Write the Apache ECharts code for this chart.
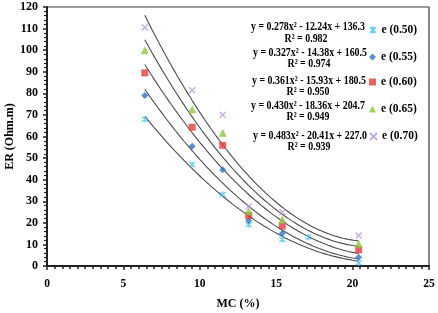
<!DOCTYPE html>
<html>
<head>
<meta charset="utf-8">
<script src="https://cdn.jsdelivr.net/npm/echarts@6/dist/echarts.min.js"></script>
<style>
html,body{margin:0;padding:0;background:#fff;}
#chart{width:438px;height:313px;}
</style>
</head>
<body>
<div id="chart"></div>
<script>
// ---- data ----
const seriesNames = ['e (0.50)', 'e (0.55)', 'e (0.60)', 'e (0.65)', 'e (0.70)'];
const xE050 = [6.4, 9.5, 11.5, 13.2, 15.4, 17.1, 20.4];
const yE050 = [68, 47, 33.1, 19.1, 12.3, 13.4, 1.5];
const xCommon = [6.4, 9.5, 11.5, 13.2, 15.4, 20.4];
const yE055 = [79, 55.5, 44.6, 21.1, 15.2, 4.1];
const yE060 = [89.5, 64.3, 55.9, 23.4, 18.5, 7.5];
const yE065 = [100, 72.6, 61.7, 25.4, 21.6, 10.3];
const yE070 = [110.5, 81.4, 70.1, 27.7, 24.9, 14.1];
// trendline coefficients printed on the chart: y = a x^2 + b x + c
const coefA = [0.278, 0.327, 0.361, 0.430, 0.483];
const coefB = [-12.24, -14.38, -15.93, -18.36, -20.41];
const coefC = [136.3, 160.5, 180.5, 204.7, 227.0];
const rSquared = [0.982, 0.974, 0.950, 0.949, 0.939];
const fitRange = [6.4, 20.4];
const xTicks = [0, 5, 10, 15, 20, 25];
const yTicks = [0, 10, 20, 30, 40, 50, 60, 70, 80, 90, 100, 110, 120];

const colors = ['#4cc3e6', '#2f73c2', '#e23c3c', '#8cc63f', '#b796d8'];
const starPath = 'path://M-1,-1L1,1M1,-1L-1,1M0,-1.2L0,1.2';
const crossPath = 'path://M-1,-1L1,1M1,-1L-1,1';
const symbols = [starPath, 'diamond', 'rect', 'triangle', crossPath];
const symSizes = [6, 7, 7, 8, 6];

const pts = [
  xE050.map((x, i) => [x, yE050[i]]),
  xCommon.map((x, i) => [x, yE055[i]]),
  xCommon.map((x, i) => [x, yE060[i]]),
  xCommon.map((x, i) => [x, yE065[i]]),
  xCommon.map((x, i) => [x, yE070[i]])
];

const serif = '"Liberation Serif", "Times New Roman", serif';

const series = [];
// trendlines
coefA.forEach((a, k) => {
  const d = [];
  for (let s = 0; s <= 140; s++) {
    const x = fitRange[0] + s * (fitRange[1] - fitRange[0]) / 140;
    d.push([x, a * x * x + coefB[k] * x + coefC[k]]);
  }
  series.push({
    type: 'line', data: d, showSymbol: false, silent: true, smooth: false,
    lineStyle: { color: '#4a4a4a', width: 1.1 }, z: 2
  });
});
// scatter points
seriesNames.forEach((n, k) => {
  const isPath = k === 0 || k === 4;
  series.push({
    name: n, type: 'scatter', data: pts[k], symbol: symbols[k], symbolSize: symSizes[k],
    itemStyle: isPath ? { color: 'transparent', borderColor: colors[k], borderWidth: 1.3 }
                      : { color: colors[k] },
    z: 3
  });
});

const legendTops = [24, 51, 76, 103, 130.5];
const legends = seriesNames.map((n, k) => ({
  data: [n], left: 369, top: legendTops[k], itemWidth: 7, itemHeight: 7, padding: 0,
  textStyle: { fontFamily: serif, fontWeight: 'bold', fontSize: 11.5, color: '#000' },
  selectedMode: false
}));

const eqX = [308, 310, 309, 308, 310];
const eqY = [27.3, 53.3, 81, 106, 136];
const r2X = [306, 309, 308, 308, 309];
const r2Y = [39.3, 64.3, 91.7, 117.3, 146.7];
function fmtEq(k) {
  const b = coefB[k];
  return 'y = ' + coefA[k].toFixed(3) + 'x² ' + (b < 0 ? '- ' : '+ ') + Math.abs(b).toFixed(2) +
         'x + ' + coefC[k].toFixed(1);
}
const graphics = [];
coefA.forEach((a, k) => {
  graphics.push({
    type: 'text', x: eqX[k], y: eqY[k], scaleX: 0.86, z: 10,
    style: { text: fmtEq(k), textAlign: 'center', textVerticalAlign: 'middle',
             font: 'bold 11.5px ' + serif, fill: '#000' }
  });
  graphics.push({
    type: 'text', x: r2X[k], y: r2Y[k], scaleX: 0.86, z: 10,
    style: { text: 'R² = ' + rSquared[k].toFixed(3), textAlign: 'center', textVerticalAlign: 'middle',
             font: 'bold 11.5px ' + serif, fill: '#000' }
  });
});

const chart = echarts.init(document.getElementById('chart'), null, { renderer: 'canvas' });
chart.setOption({
  animation: false,
  backgroundColor: '#fff',
  grid: { left: 47, right: 9, top: 7, bottom: 47, show: true, borderColor: '#3a3a3a', borderWidth: 1.2,
          containLabel: false, outerBoundsMode: 'none' },
  legend: legends,
  graphic: graphics,
  xAxis: {
    type: 'value', min: xTicks[0], max: xTicks[xTicks.length - 1], interval: 5,
    name: 'MC (%)', nameLocation: 'middle', nameGap: 32, nameMoveOverlap: false,
    nameTextStyle: { fontFamily: serif, fontWeight: 'bold', fontSize: 12, color: '#000' },
    axisLine: { show: true, lineStyle: { color: '#222', width: 2 } },
    axisTick: { show: true, length: 4, lineStyle: { color: '#222', width: 1.5 } },
    minorTick: { show: true, splitNumber: 10, length: 3, lineStyle: { color: '#222', width: 1.5 } },
    axisLabel: { margin: 12, fontFamily: serif, fontWeight: 'bold', fontSize: 11.5, color: '#000' },
    splitLine: { show: false }
  },
  yAxis: {
    type: 'value', min: yTicks[0], max: yTicks[yTicks.length - 1], interval: 10,
    name: 'ER (Ohm.m)', nameLocation: 'middle', nameGap: 31, nameRotate: 90, nameMoveOverlap: false,
    nameTextStyle: { fontFamily: serif, fontWeight: 'bold', fontSize: 12, color: '#000' },
    axisLine: { show: true, lineStyle: { color: '#222', width: 2 } },
    axisTick: { show: true, length: 4, lineStyle: { color: '#222', width: 1.5 } },
    minorTick: { show: true, splitNumber: 5, length: 3, lineStyle: { color: '#222', width: 1.2 } },
    axisLabel: { margin: 9, fontFamily: serif, fontWeight: 'bold', fontSize: 12, color: '#000' },
    splitLine: { show: false }
  },
  series: series
});
</script>
</body>
</html>
